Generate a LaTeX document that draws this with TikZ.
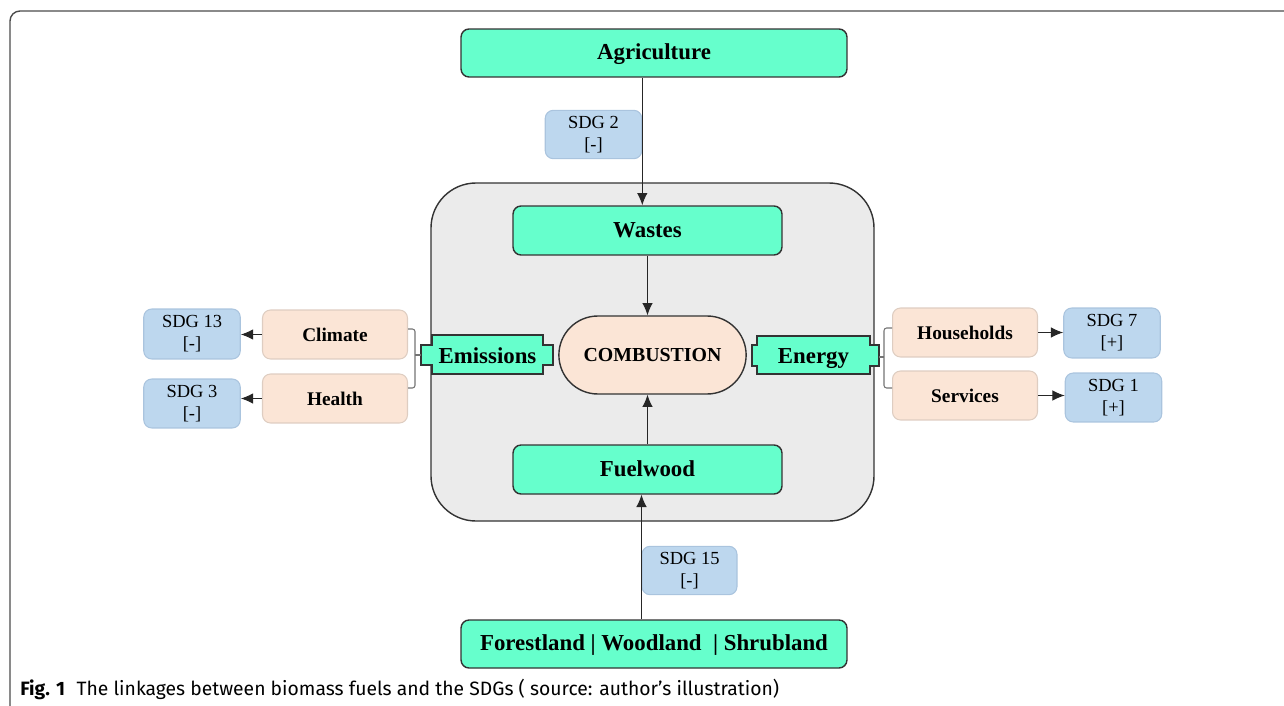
\documentclass[tikz,border=0pt]{standalone}
\usepackage{fontspec}
\setmainfont{Liberation Serif}
\newfontfamily\capfont{Fira Sans}
\usetikzlibrary{shapes.misc}
\usetikzlibrary{arrows.meta}
\definecolor{aqua}{RGB}{102,255,204}
\definecolor{peach}{RGB}{251,229,214}
\definecolor{peachline}{RGB}{222,205,193}
\definecolor{sdgblue}{RGB}{189,215,238}
\definecolor{sdgline}{RGB}{170,196,222}
\definecolor{panel}{RGB}{235,235,235}
\tikzset{
    srcnode/.style = {rectangle, rounded corners=0.16cm, draw=black!80, line width=0.8pt, fill=aqua, text height=1.9ex, text depth=0.25ex, font=\fontsize{13}{15}\selectfont\bfseries},
    effnode/.style = {rectangle, rounded corners=0.16cm, draw=peachline, line width=0.6pt, fill=peach, minimum width=2.9cm, minimum height=0.98cm, font=\fontsize{11}{13}\selectfont\bfseries},
    sdgnode/.style = {rectangle, rounded corners=0.16cm, draw=sdgline, line width=0.6pt, fill=sdgblue, minimum width=1.93cm, align=center, font=\fontsize{10.5}{12.5}\selectfont},
    plugnode/.style = {fill=aqua, draw=black!80, line width=0.8pt},
    edgea/.style = {-{Latex[length=7pt,width=6pt]}, line width=0.6pt, draw=black!85},
    bracket/.style = {line width=0.6pt, draw=black!55},
}

\begin{document}
\begin{tikzpicture}[x=0.02cm, y=-0.02cm]
\useasboundingbox (0,0) rectangle (1284,706);
\draw[line width=0.8pt, draw=black!70, rounded corners=0.2cm] (10,706) -- (10,11) -- (1284,11);

% the combustion panel
\draw[fill=panel, draw=black!80, line width=0.8pt, rounded corners=0.9cm] (431,183) rectangle (874,521);

\node[srcnode, minimum width=7.72cm, minimum height=0.96cm] at (654,53) (agri) {Agriculture};
\node[srcnode, minimum width=5.38cm, minimum height=0.98cm] at (647.5,230.5) (wastes) {Wastes};
\node[srcnode, minimum width=5.38cm, minimum height=0.98cm] at (647.5,469.5) (fuel) {Fuelwood};
\node[srcnode, minimum width=7.72cm, minimum height=0.96cm] at (654,644) (forest) {Forestland | Woodland \ | Shrubland};

\node[shape=rounded rectangle, draw=black!80, line width=0.8pt, fill=peach, minimum width=3.98cm, minimum height=1.56cm, font=\fontsize{11.3}{13}\selectfont\bfseries] at (652.5,355) (comb) {COMBUSTION};

% outputs with plugs
\draw[plugnode] (432,335) -- (543,335) -- (543,345) -- (553,345) -- (553,365) -- (543,365) -- (543,374)
    -- (432,374) -- (432,365) -- (421,365) -- (421,345) -- (432,345) -- cycle;
\draw[plugnode] (757,336) -- (870,336) -- (870,345) -- (879,345) -- (879,366) -- (870,366) -- (870,374)
    -- (757,374) -- (757,366) -- (752,366) -- (752,345) -- (757,345) -- cycle;
\node[anchor=base, font=\fontsize{13}{15}\selectfont\bfseries] at (487.5,363) (emis) {Emissions};
\node[anchor=base, font=\fontsize{13}{15}\selectfont\bfseries] at (813.5,363) (energy) {Energy};

\node[effnode] at (335,334.5) (climate) {Climate};
\node[effnode] at (335,398.5) (health) {Health};
\node[effnode] at (965,332.5) (house) {Households};
\node[effnode] at (965,395.5) (serv) {Services};

\node[sdgnode, minimum height=1.0cm] at (192,334) (sdg13) {SDG 13\\{[-]}};
\node[sdgnode, minimum height=0.98cm] at (192,403.5) (sdg3) {SDG 3\\{[-]}};
\node[sdgnode, minimum height=1.0cm] at (1112,333) (sdg7) {SDG 7\\{[+]}};
\node[sdgnode, minimum height=0.98cm] at (1113.5,397.5) (sdg1) {SDG 1\\{[+]}};
\node[sdgnode, minimum height=0.9cm] at (593.5,134.5) (sdg2) {SDG 2\\{[-]}};
\node[sdgnode, minimum width=1.9cm, minimum height=0.9cm] at (689.5,570.5) (sdg15) {SDG 15\\{[-]}};

\coordinate (lb) at (421,355);
\coordinate (rb) at (879,357);
%
\draw[edgea] (agri.south -| sdg2.east) -- (wastes.north -| sdg2.east);
\draw[edgea] (wastes.south) -- (wastes.south |- comb.north);
\draw[edgea] (fuel.north) -- (fuel.north |- comb.south);
\draw[edgea] (forest.north -| sdg15.west) -- (fuel.south -| sdg15.west);
\draw[edgea] (climate.west) -- (climate.west -| sdg13.east);
\draw[edgea] (health.west) -- (health.west -| sdg3.east);
\draw[edgea] (house.east) -- (house.east -| sdg7.west);
\draw[edgea] (serv.east) -- (serv.east -| sdg1.west);

\draw[bracket, rounded corners=1.5pt] (climate.east |- 0,329) -- (415,329) -- (415,388) -- (health.east |- 0,388);
\draw[bracket] (415,355) -- (lb);
\draw[bracket, rounded corners=1.5pt] (house.west |- 0,328) -- (884,328) -- (884,388) -- (serv.west |- 0,388);
\draw[bracket] (rb) -- (884,357);

\node[anchor=base west, inner sep=0pt, font=\capfont\fontsize{11}{13}\selectfont] at (20,695) (cap)
    {\textbf{Fig. 1}\hspace{0.6em}The linkages between biomass fuels and the SDGs ( source: author’s illustration)};
\end{tikzpicture}
\end{document}
